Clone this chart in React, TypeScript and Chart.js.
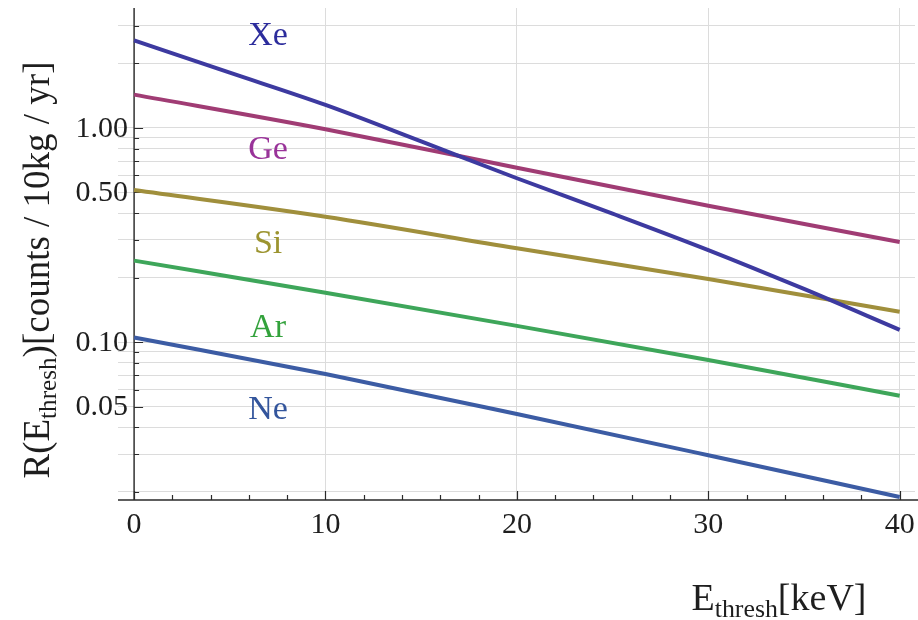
import React, { useEffect, useRef } from "react";
import { Chart, registerables } from "chart.js";

Chart.register(...registerables);

// ---- data ----
const energies = [0, 10, 20, 30, 40];
const xeEnergies = [0, 5, 10, 15, 20, 25, 30, 35, 40];
const xeRate = [2.56, 1.81, 1.28, 0.865, 0.582, 0.398, 0.269, 0.177, 0.114];
const geRate = [1.43, 0.985, 0.652, 0.433, 0.293];
const siRate = [0.513, 0.385, 0.274, 0.197, 0.1386];
const arRate = [0.24, 0.17, 0.119, 0.0824, 0.0561];
const neRate = [0.105, 0.0709, 0.0461, 0.0296, 0.0189];

const seriesNames = ["Xe", "Ge", "Si", "Ar", "Ne"];
const labelEnergy = [7, 7, 7, 7, 7];
const labelRate = [2.68, 0.789, 0.287, 0.116, 0.0481];

const yMajorTicks = [0.05, 0.1, 0.5, 1];
const yTickLabels = ["0.05", "0.10", "0.50", "1.00"];
const yMinorTicks = [0.02, 0.03, 0.04, 0.06, 0.07, 0.08, 0.09, 0.2, 0.3, 0.4, 0.6, 0.7, 0.8, 0.9, 2, 3];
const xMajorTicks = [0, 10, 20, 30, 40];
const xMinorTicks = [2, 4, 6, 8, 12, 14, 16, 18, 22, 24, 26, 28, 32, 34, 36, 38];

const lineColors = ["#3d3aa0", "#a03c74", "#a08f3c", "#3ea65a", "#3c5ca4"];
const labelColors = ["#2c2c9c", "#993399", "#9c9430", "#33a23c", "#33559c"];

const SERIF = "'Liberation Serif', 'Times New Roman', serif";

function toPoints(xs: number[], ys: number[]) {
  return xs.map((x, i) => ({ x, y: ys[i] }));
}

function drawParts(
  ctx: CanvasRenderingContext2D,
  parts: { text: string; sub?: boolean }[],
  size: number,
  subScale: number,
  subDrop: number
) {
  const widths = parts.map((p) => {
    ctx.font = `${p.sub ? size * subScale : size}px ${SERIF}`;
    return ctx.measureText(p.text).width;
  });
  const total = widths.reduce((a, b) => a + b, 0);
  let x = -total / 2;
  parts.forEach((p, i) => {
    ctx.font = `${p.sub ? size * subScale : size}px ${SERIF}`;
    ctx.fillText(p.text, x, p.sub ? subDrop : 0);
    x += widths[i];
  });
}

const decorPlugin = {
  id: "decor",
  beforeDatasetsDraw(chart: any) {
    const { ctx, chartArea, scales } = chart;
    const xs = scales.x;
    const ys = scales.y;
    const x0 = xs.getPixelForValue(0);
    const yb = chartArea.bottom;
    ctx.save();
    ctx.strokeStyle = "#2a2a2a";
    ctx.lineWidth = 1.4;
    ctx.beginPath();
    ctx.moveTo(x0, chartArea.top);
    ctx.lineTo(x0, yb);
    ctx.moveTo(chartArea.left, yb);
    ctx.lineTo(chart.width, yb);
    ctx.stroke();
    ctx.lineWidth = 1.2;
    ctx.beginPath();
    yMajorTicks.forEach((v) => {
      const p = Math.round(ys.getPixelForValue(v)) + 0.5;
      ctx.moveTo(x0, p);
      ctx.lineTo(x0 + 9, p);
    });
    yMinorTicks.forEach((v) => {
      const p = Math.round(ys.getPixelForValue(v)) + 0.5;
      ctx.moveTo(x0, p);
      ctx.lineTo(x0 + 5, p);
    });
    xMajorTicks.forEach((v) => {
      const p = Math.round(xs.getPixelForValue(v)) + 0.5;
      ctx.moveTo(p, yb);
      ctx.lineTo(p, yb - 9);
    });
    xMinorTicks.forEach((v) => {
      const p = Math.round(xs.getPixelForValue(v)) + 0.5;
      ctx.moveTo(p, yb);
      ctx.lineTo(p, yb - 5);
    });
    ctx.stroke();
    ctx.restore();
  },
  afterDraw(chart: any) {
    const { ctx, scales } = chart;
    const xs = scales.x;
    const ys = scales.y;
    const x0 = xs.getPixelForValue(0);
    ctx.save();
    // y tick labels
    ctx.fillStyle = "#1e1e1e";
    ctx.textAlign = "right";
    ctx.textBaseline = "middle";
    ctx.font = `30px ${SERIF}`;
    yMajorTicks.forEach((v, i) => {
      ctx.fillText(yTickLabels[i], x0 - 6, ys.getPixelForValue(v) + 1);
    });
    // series labels
    ctx.textAlign = "center";
    ctx.textBaseline = "middle";
    ctx.font = `34px ${SERIF}`;
    seriesNames.forEach((name, i) => {
      ctx.fillStyle = labelColors[i];
      ctx.fillText(name, xs.getPixelForValue(labelEnergy[i]), ys.getPixelForValue(labelRate[i]));
    });
    // axis titles
    ctx.fillStyle = "#1e1e1e";
    ctx.textAlign = "left";
    ctx.textBaseline = "alphabetic";
    ctx.save();
    ctx.translate(779, 610);
    drawParts(ctx, [{ text: "E" }, { text: "thresh", sub: true }, { text: "[keV]" }], 38, 0.68, 7);
    ctx.restore();
    ctx.save();
    ctx.translate(49, 270);
    ctx.rotate(-Math.PI / 2);
    drawParts(
      ctx,
      [{ text: "R(E" }, { text: "thresh", sub: true }, { text: ")[counts / 10kg / yr]" }],
      37,
      0.68,
      7
    );
    ctx.restore();
    ctx.restore();
  },
};

export default function App() {
  const ref = useRef<HTMLCanvasElement | null>(null);
  useEffect(() => {
    if (!ref.current) return;
    const mk = (i: number, pts: { x: number; y: number }[]) => ({
      label: seriesNames[i],
      data: pts,
      borderColor: lineColors[i],
      backgroundColor: lineColors[i],
      borderWidth: 4,
      pointRadius: 0,
      cubicInterpolationMode: "monotone" as const,
      fill: false,
    });
    const chart = new Chart(ref.current, {
      type: "line",
      data: {
        datasets: [
          mk(0, toPoints(xeEnergies, xeRate)),
          mk(1, toPoints(energies, geRate)),
          mk(2, toPoints(energies, siRate)),
          mk(3, toPoints(energies, arRate)),
          mk(4, toPoints(energies, neRate)),
        ],
      },
      options: {
        responsive: false,
        animation: false,
        devicePixelRatio: 1,
        layout: { padding: { top: 8, right: 3, left: 0, bottom: 0 } },
        plugins: { legend: { display: false }, tooltip: { enabled: false } },
        scales: {
          x: {
            type: "linear",
            min: -0.84,
            max: 40.8,
            afterBuildTicks: (s: any) => {
              s.ticks = xMajorTicks.map((v) => ({ value: v }));
            },
            afterFit: (s: any) => {
              s.height = 120;
              s.paddingLeft = 0;
              s.paddingRight = 0;
            },
            ticks: {
              autoSkip: false,
              maxRotation: 0,
              padding: 7,
              color: "#1e1e1e",
              font: { family: SERIF, size: 30 },
              callback: (v: any) => String(v),
            },
            grid: { color: "#dcdcdc", lineWidth: 1, drawTicks: false },
            border: { display: false },
          },
          y: {
            type: "logarithmic",
            min: 0.0183,
            max: 3.63,
            afterBuildTicks: (s: any) => {
              s.ticks = [...yMinorTicks, ...yMajorTicks]
                .sort((a, b) => a - b)
                .map((v) => ({ value: v }));
            },
            afterFit: (s: any) => {
              s.width = 118;
              s.paddingTop = 0;
              s.paddingBottom = 0;
            },
            ticks: {
              display: false,
              autoSkip: false,
            },
            grid: { color: "#dcdcdc", lineWidth: 1, drawTicks: false },
            border: { display: false },
          },
        },
      },
      plugins: [decorPlugin],
    });
    return () => chart.destroy();
  }, []);
  return (
    <div style={{ position: "fixed", left: 0, top: 0, width: 918, height: 620, background: "#fff" }}>
      <canvas ref={ref} width={918} height={620} style={{ width: 918, height: 620, display: "block" }} />
    </div>
  );
}
